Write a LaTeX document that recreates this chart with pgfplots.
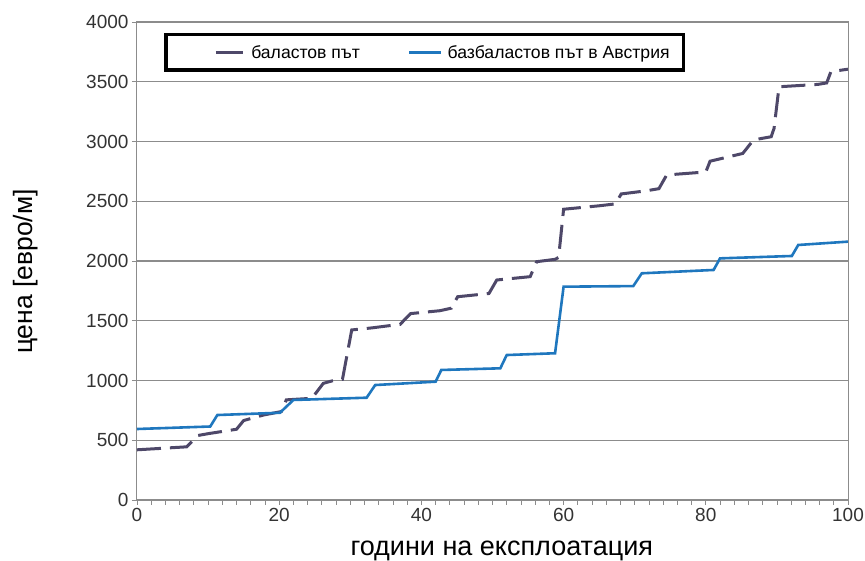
\documentclass[border=0pt]{standalone}
\usepackage{pgfplots}
\pgfplotsset{compat=1.18}
\usepackage{fontspec}
\setmainfont{Liberation Sans}
\definecolor{ballast}{RGB}{78,72,105}
\definecolor{slab}{RGB}{31,119,190}
\definecolor{gridgray}{RGB}{140,140,140}
\begin{document}
\begin{tikzpicture}
\begin{axis}[
  scale only axis, width=711pt, height=478pt,
  xmin=0, xmax=100, ymin=0, ymax=4000,
  xtick={0,20,40,60,80,100}, minor x tick num=9,
  ytick={0,500,...,4000},
  tick pos=left, tick align=outside,
  major tick length=5pt, minor tick length=5pt,
  every tick/.style={gridgray, line width=0.8pt},
  axis line style={gridgray, line width=1pt},
  ymajorgrids, grid style={gridgray, line width=1.2pt},
  ticklabel style={font=\fontsize{19}{22}\selectfont, text=black!80},
  /pgf/number format/assume math mode=true,
  /pgf/number format/1000 sep={},
  xlabel={години на експлоатация},
  ylabel={цена [евро/м]},
  xlabel style={font=\fontsize{27}{31}\selectfont, at={(axis description cs:0.513,-0.106)}, anchor=center},
  ylabel style={font=\fontsize{26.5}{30}\selectfont, at={(axis description cs:-0.157,0.478)}, anchor=center},
  clip=false,
  legend columns=2,
  legend style={at={(axis description cs:0.038,0.977)}, anchor=north west,
    draw=black, line width=3.5pt, inner xsep=0pt, inner ysep=8.5pt,
    font=\fontsize{17.6}{20}\selectfont,
    /tikz/every even column/.append style={column sep=0pt}},
  legend cell align=left,
]
\addplot[ballast, line width=3pt, dash pattern=on 24pt off 9pt,
  legend image code/.code={\path[draw=none] (-50pt,0) -- (0pt,0); \draw[ballast,line width=3pt,solid] (0pt,0pt) -- (27pt,0pt);}]
coordinates {
(0,420) (7,445) (8.6,540) (10,555) (14,592) (15,665) (17.8,711) (20.3,740) (21,838)
(24.6,851) (26.2,976) (27.4,996) (28.9,1010) (30.2,1423) (33,1440) (37,1470) (38.5,1560)
(42.6,1584) (44.2,1605) (45.1,1701) (49.5,1728) (50.6,1841) (55.3,1869) (56.2,1994)
(58.8,2014) (59.3,2030) (60,2433) (65,2462) (67.3,2478) (68.1,2561) (71.7,2588) (73.4,2605)
(74.5,2720) (80,2745) (80.6,2835) (85.2,2900) (86.7,3013) (89.2,3040) (89.6,3110)
(90.3,3458) (95.8,3478) (97,3490) (97.6,3585) (100,3605)
};
\addlegendentry{\hspace*{5pt}баластов път\hspace*{46pt}}
\addplot[slab, line width=2.6pt,
  legend image code/.code={\draw[slab,line width=2.6pt] (0pt,0pt) -- (32pt,0pt);}]
coordinates {
(0,594) (10.3,615) (11.3,711) (20.1,730) (22,837) (32.3,856) (33.5,962) (42,990)
(42.8,1088) (51.1,1102) (52,1213) (58.8,1228) (60,1785) (69.8,1790) (71,1897)
(81.1,1925) (82,2022) (92.1,2042) (93,2134) (100,2162)
};
\addlegendentry{\hspace*{3pt}базбаластов път в Австрия\hspace*{12pt}}
\coordinate (SW) at (rel axis cs:0,0);
\coordinate (NE) at (rel axis cs:1,1);
\draw[gridgray, line width=1pt] (rel axis cs:1,0) -- (rel axis cs:1,1);
\end{axis}
\pgfresetboundingbox
\path ([shift={(-137pt,-61pt)}]SW) rectangle ([shift={(17pt,22pt)}]NE);
\end{tikzpicture}
\end{document}
